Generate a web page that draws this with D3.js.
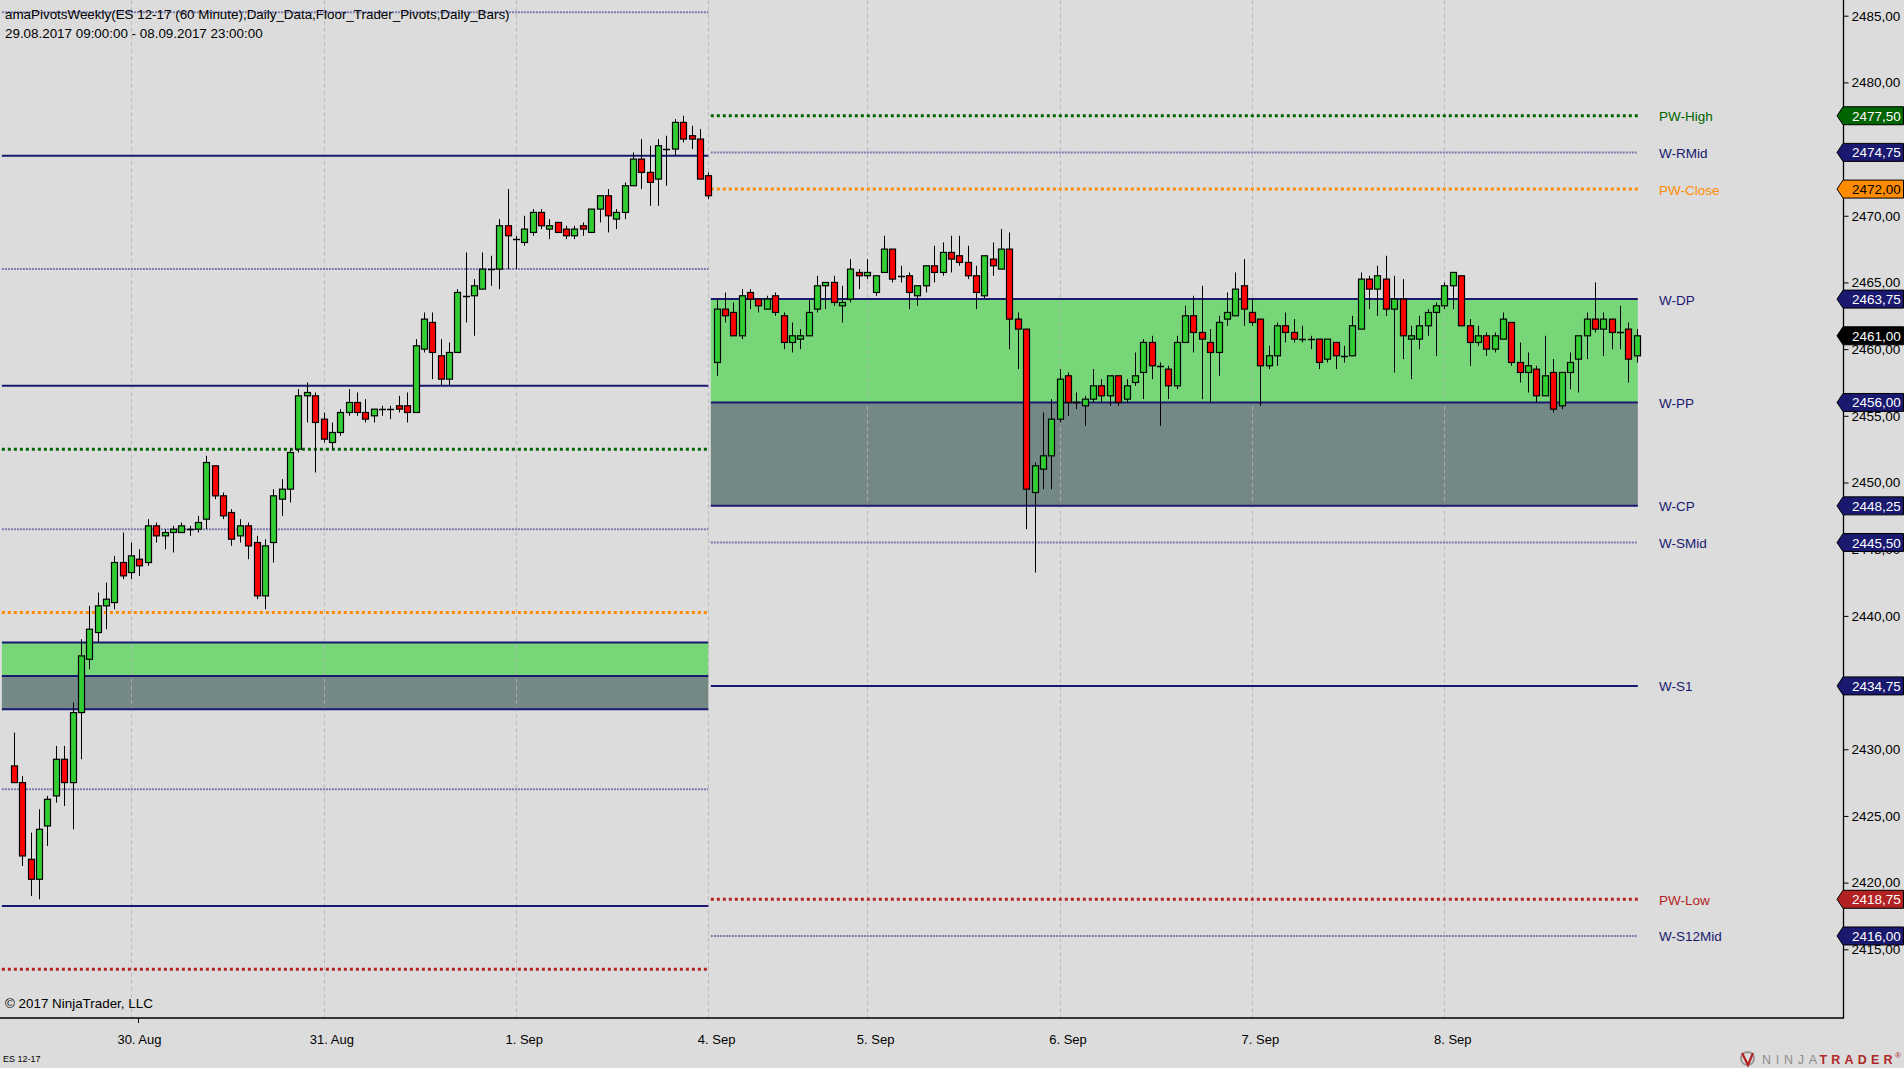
<!DOCTYPE html>
<html><head><meta charset="utf-8">
<script src="https://cdn.jsdelivr.net/npm/d3@7"></script>
<style>
html,body{margin:0;padding:0;background:#dcdcdc;overflow:hidden}
svg{display:block}
text{font-family:"Liberation Sans",Arial,sans-serif}
</style></head><body>
<svg id="chart" width="1904" height="1068"></svg>
<script>
// ---------------- DATA ----------------
const titleText = "amaPivotsWeekly(ES 12-17 (60 Minute),Daily_Data,Floor_Trader_Pivots,Daily_Bars)";
const rangeText = "29.08.2017 09:00:00 - 08.09.2017 23:00:00";
const sessionDays = ["29.08","30.08","31.08","01.09","04.09","05.09","06.09","07.09","08.09"];
const barsPerDay = [15,23,23,23,19,23,23,23,23];
const axisDayLabels = ["30. Aug","31. Aug","1. Sep","4. Sep","5. Sep","6. Sep","7. Sep","8. Sep"];

const openP = [
2428.75,2427.5,2421.75,2420.25,2424.25,2426.5,2429.25,2427.5,2432.75,2436.75,2438.75,2440.75,2441,2444,2443.25,
2444.25,2444,2446.75,2446,2446.25,2446.25,2446.5,2446.5,2447.25,2451.25,2449,2447.75,2446,2446.75,2445.5,2441.5,2445.5,2448.75,2449.5,2452.5,2456.5,2456.5,2454.75,
2453,2453.75,2455.25,2456,2455.25,2455,2455.5,2455.5,2455.75,2455.75,2455.25,2460,2462,2459.5,2457.75,2459.75,2464,2464,2464.5,2466,2466,2469.25,2468.25,
2468,2468.75,2470.25,2469,2469.5,2469,2468.5,2469.25,2468.75,2470.5,2471.5,2469.75,2470.25,2472.25,2474.25,2473.25,2472.75,2475,2475,2477,2476,2475.75,2473,
2459,2463,2462.75,2461,2464.25,2463.75,2463,2464,2462.5,2460.5,2460.75,2461,2463,2464.75,2465,2463.25,2463.75,2465.75,2465.5,
2464.25,2465.75,2467.5,2465.5,2465.5,2464,2464.75,2466.25,2465.75,2467.25,2467,2466.5,2465.5,2464,2466.75,2466,2467.5,2462.25,2461.5,2449.25,2451,2452,2454.75,
2458,2456,2455.75,2456.25,2457.25,2456.5,2458,2456.25,2457.5,2458.25,2460.5,2458.75,2458.5,2457.25,2460.5,2462.5,2461.25,2460.5,2459.75,2462.25,2462.5,2464.75,2462.75,
2462.25,2458.75,2459.5,2461.75,2461.25,2460.75,2460.75,2460.75,2459.25,2460.5,2459.5,2459.5,2461.5,2465.25,2464.5,2465.25,2463,2463.75,2460.75,2460.75,2461.75,2462.75,2463.25,
2464.75,2465.5,2461.75,2460.5,2461,2460,2460.75,2462,2459,2458.25,2458.5,2456.5,2458.25,2455.75,2458.25,2459.25,2461,2462.25,2461.5,2462.25,2461.25,2461.5,2459.5];
const highP = [
2431.25,2428,2423.75,2425.5,2426.5,2430.25,2430.25,2433.5,2438.25,2440.75,2441.75,2442.5,2444.5,2446.25,2445.5,
2445,2447.25,2447,2446.5,2446.75,2447,2446.75,2447.5,2452,2451.25,2449.25,2448,2447.25,2447,2446,2445.75,2449.5,2450.25,2452.5,2457,2457.5,2456.75,2455.25,
2454.5,2455.5,2457,2456.75,2456.25,2455.5,2455.75,2455.75,2456.5,2456.75,2460.75,2462.75,2462.75,2460.75,2460.5,2464.5,2467.25,2465.25,2467.25,2467,2469.75,2472,2468.5,
2470,2470.5,2470.5,2469.75,2469.5,2469.25,2469.25,2469.5,2470.5,2471.5,2472,2470.5,2472.5,2474.75,2475.75,2475.25,2475.75,2476,2477.25,2477.5,2476.75,2476.5,2473.25,
2463.75,2464.25,2463.5,2464.5,2464.5,2463.75,2464,2464.25,2462.75,2462,2461.5,2463.75,2465.5,2465,2465.5,2464.75,2466.75,2466,2466.75,
2465.5,2468.5,2467.5,2466.25,2465.75,2464.75,2466.25,2467.75,2468,2468.5,2468.5,2467.75,2466.25,2467,2468,2469,2468.75,2462.75,2461.5,2451.5,2455.25,2456.25,2458.5,
2458.25,2456.75,2456.5,2458.5,2457.75,2458,2458,2457.75,2459.75,2460.75,2461,2459,2458.75,2461,2463.25,2464,2464.75,2461.5,2462.5,2464.25,2465.75,2466.75,2463.75,
2462.25,2460.25,2462,2462.75,2462.25,2461.75,2461,2460.75,2460.75,2460.5,2460.25,2462.5,2465.75,2465.5,2466.25,2467,2465.5,2465.25,2461.75,2462.5,2463,2463.5,2465,
2465.75,2465.5,2462.25,2461.75,2461.25,2461.25,2462.75,2462,2460.5,2459.75,2458.75,2461,2459.25,2458.25,2459.75,2461,2462.75,2465,2462.75,2462.25,2463.25,2462,2461.5];
const lowP = [
2427.5,2421.25,2419,2418.75,2422.75,2426,2425.75,2424,2429.25,2436,2438,2439,2440.5,2442.75,2442.75,
2443,2443.75,2445.5,2445,2444.75,2446.25,2446,2446.25,2446.5,2448.75,2447.25,2445.25,2445.5,2444.25,2441.25,2440.5,2444,2447.5,2448.5,2452.25,2454.5,2450.75,2453,
2452.5,2453.5,2455,2455,2454.5,2454.5,2455,2454.75,2455.25,2454.5,2455.25,2459.75,2457.75,2457.25,2457.25,2459.75,2462,2461,2464.5,2464.75,2464.5,2466,2466,
2467.75,2468.5,2469,2468.25,2468.75,2468.25,2468.25,2468.5,2468.75,2469.5,2468.75,2469,2469.75,2472.25,2472,2470.75,2470.75,2472.25,2474.5,2475.5,2475,2472.75,2471.25,
2458,2462,2461,2460.75,2463,2462.75,2463,2462.5,2460,2459.75,2460,2461,2462.75,2463,2463.25,2462,2463.5,2464.5,2465.25,
2464,2465.75,2465,2465,2463,2463.25,2464.25,2465,2465.5,2465.75,2466.25,2465.25,2463,2463.75,2465.5,2466,2460,2458.5,2446.5,2443.25,2449.5,2449.5,2454.5,
2455,2455.5,2454.25,2456,2456,2455.75,2455.75,2456,2457.25,2456.25,2457.75,2454.25,2456.25,2457,2460.5,2459.75,2456.25,2456,2458,2461.75,2462.5,2461.75,2461.75,
2455.75,2458.5,2458.75,2460.5,2460.5,2460.5,2460,2458.5,2459,2458.5,2459,2459.5,2461.5,2463,2462.5,2462.5,2458.25,2459.25,2457.75,2460,2461,2459.5,2463,
2463,2461.75,2458.75,2460.25,2459.5,2459.75,2460.75,2458.75,2457.5,2456.75,2456,2456.5,2455.25,2455.5,2457,2456.75,2459.25,2461.25,2459.5,2460,2460,2457.5,2459];
const closeP = [
2427.5,2422,2420.25,2424,2426.25,2429.25,2427.5,2432.75,2437,2439,2440.75,2441.25,2444,2443,2444.5,
2443.75,2446.75,2446,2446.25,2446.5,2446.75,2446.5,2447,2451.5,2449,2447.5,2445.75,2446.75,2445.25,2441.5,2445.25,2449,2449.5,2452.25,2456.5,2456.75,2454.5,2453.25,
2453.75,2455.25,2456,2455.25,2454.75,2455.5,2455.5,2455.5,2455.5,2455.25,2460.25,2462.25,2459.75,2457.75,2459.75,2464.25,2464,2464.75,2466,2466,2469.25,2468.5,2468.25,
2469,2470.25,2469.25,2469.25,2468.75,2468.5,2469,2469,2470.5,2471.5,2470,2470.25,2472.25,2474.25,2473.25,2472.5,2475.25,2475,2477,2475.75,2475.75,2472.75,2471.5,
2463,2462.5,2461,2464,2463.75,2463.25,2463.75,2462.75,2460.5,2461,2461,2462.75,2464.75,2465,2463.5,2463.5,2466,2465.5,2465.75,
2465.5,2467.5,2465.25,2465.5,2464.25,2464.75,2466.25,2465.75,2467.25,2466.75,2466.5,2465.5,2464.25,2467,2466.25,2467.5,2462.25,2461.5,2449.5,2451.25,2452,2454.75,2457.75,
2456,2456,2456.25,2457.25,2456.5,2458,2456,2457.25,2458,2460.5,2458.75,2458.75,2457.25,2460.5,2462.5,2461.25,2460.75,2459.75,2462,2462.75,2464.5,2463,2462,
2458.75,2459.5,2461.75,2461.25,2460.75,2460.75,2460.75,2459,2460.75,2459.5,2459.5,2461.75,2465.25,2464.5,2465.5,2463,2463.75,2461,2461,2461.75,2462.75,2463.25,2464.75,
2465.75,2461.75,2460.5,2461,2460,2461,2462.25,2459,2458.25,2458.75,2456.5,2458,2455.5,2458.25,2459,2461,2462.25,2461.5,2462.25,2461.25,2461.25,2459.25,2461];

const yTickValues = [2485,2480,2475,2470,2465,2460,2455,2450,2445,2440,2435,2430,2425,2420,2415];

// weekly pivot levels: week 1 (29.08 - 01.09) and week 2 (04.09 - 08.09)
const w1Names  = ["R23Mid","R2","R12Mid","R1","PW-High","RMid","PW-Close","DP","PP","CP","SMid","S1","PW-Low"];
const w1Values = [2485.25,2474.5,2466,2457.25,2452.5,2446.5,2440.25,2438,2435.5,2433,2427,2418.25,2413.5];
const w1Kinds  = ["mid","pivot","mid","pivot","high","mid","close","pivot","pivot","pivot","mid","pivot","low"];
const w2Names  = ["PW-High","W-RMid","PW-Close","W-DP","W-PP","W-CP","W-SMid","W-S1","PW-Low","W-S12Mid"];
const w2Values = [2477.5,2474.75,2472,2463.75,2456,2448.25,2445.5,2434.75,2418.75,2416];
const w2Kinds  = ["high","mid","close","pivot","pivot","pivot","mid","pivot","low","mid"];
const lastPrice = 2461.00;

// ---------------- CHART ----------------
const svg = d3.select("#chart");
const W = 1904, H = 1068;
const plotRight = 1843.5, plotBottom = 1018;
const nBars = openP.length;

const x = d3.scaleLinear().domain([0, nBars - 1]).range([14.0, 1636.8]);
const y = d3.scaleLinear().domain([2409.85, 2486.177]).range([plotBottom, 0]);
const fmt = v => d3.format(".2f")(v).replace(".", ",");
const FONT = '"Liberation Sans",Arial,sans-serif';

svg.append("rect").attr("width", W).attr("height", H).attr("fill", "#dcdcdc");

// day boundaries
const dayStart = [];
let acc = 0;
barsPerDay.forEach(n => { dayStart.push(acc); acc += n; });
const gridIdx = dayStart.slice(1).map(s => s - 1);

// week sections
const weekFirst = dayStart[4];
const sections = [
  {x0: x(-1.45), x1: x(weekFirst - 1), names: w1Names, values: w1Values, kinds: w1Kinds},
  {x0: x(weekFirst - 0.7), x1: x(nBars - 1) + 1, names: w2Names, values: w2Values, kinds: w2Kinds}
];

const kindStyle = {
  pivot: {stroke: "#191970", width: 2, dash: null, text: "#191970", box: "#191970"},
  mid:   {stroke: "#7b7bad", width: 2, dash: "2,1", text: "#191970", box: "#191970"},
  high:  {stroke: "#006400", width: 3, dash: "3,3", text: "#006400", box: "#006400"},
  close: {stroke: "#ff8c00", width: 3, dash: "3,3", text: "#ff8c00", box: "#ff8c00"},
  low:   {stroke: "#b22222", width: 3, dash: "3,3", text: "#b22222", box: "#b22222"}
};

// zone fills
const gFill = svg.append("g");
sections.forEach(s => {
  const dp = s.values[s.names.findIndex(n => /DP$/.test(n))];
  const pp = s.values[s.names.findIndex(n => /PP$/.test(n))];
  const cp = s.values[s.names.findIndex(n => /CP$/.test(n))];
  gFill.append("rect").attr("x", s.x0).attr("width", s.x1 - s.x0)
    .attr("y", y(dp)).attr("height", y(pp) - y(dp)).attr("fill", "#77d677");
  gFill.append("rect").attr("x", s.x0).attr("width", s.x1 - s.x0)
    .attr("y", y(pp)).attr("height", y(cp) - y(pp)).attr("fill", "#748886");
});

// vertical day grid
svg.append("g").selectAll("line").data(gridIdx).join("line")
  .attr("x1", d => Math.round(x(d)) + 0.5).attr("x2", d => Math.round(x(d)) + 0.5)
  .attr("y1", 0).attr("y2", plotBottom)
  .attr("stroke", "#b4b4b4").attr("stroke-width", 1).attr("stroke-dasharray", "4,3")
  .attr("opacity", 0.8);

// pivot lines
const gLines = svg.append("g");
sections.forEach(s => {
  s.values.forEach((v, i) => {
    const st = kindStyle[s.kinds[i]];
    gLines.append("line").attr("x1", s.x0).attr("x2", s.x1)
      .attr("y1", y(v)).attr("y2", y(v))
      .attr("stroke", st.stroke).attr("stroke-width", st.width)
      .attr("stroke-dasharray", st.dash);
  });
});

// candles
const gC = svg.append("g");
const bodyW = 6;
d3.range(nBars).forEach(i => {
  const cx = Math.round(x(i)) + 0.5;
  const o = openP[i], c = closeP[i], h = highP[i], l = lowP[i];
  gC.append("line").attr("x1", cx).attr("x2", cx)
    .attr("y1", y(h)).attr("y2", y(l)).attr("stroke", "#000").attr("stroke-width", 1);
  if (o === c) {
    gC.append("line").attr("x1", cx - 3.5).attr("x2", cx + 3.5)
      .attr("y1", Math.round(y(o)) + 0.5).attr("y2", Math.round(y(o)) + 0.5)
      .attr("stroke", "#000").attr("stroke-width", 1.5);
  } else {
    const top = y(Math.max(o, c)), bot = y(Math.min(o, c));
    gC.append("rect").attr("x", cx - bodyW / 2).attr("width", bodyW)
      .attr("y", top).attr("height", Math.max(1, bot - top))
      .attr("fill", c > o ? "#32cd32" : "#ff0000")
      .attr("stroke", "#000").attr("stroke-width", 1.2);
  }
});

// level labels for current week
const lastSec = sections[1];
svg.append("g").selectAll("text").data(lastSec.values).join("text")
  .attr("x", 1659).attr("y", d => y(d) + 1)
  .attr("dominant-baseline", "central")
  .attr("font-size", 13.5)
  .attr("fill", (d, i) => kindStyle[lastSec.kinds[i]].text)
  .text((d, i) => lastSec.names[i]);

// frame
svg.append("line").attr("x1", plotRight).attr("x2", plotRight).attr("y1", 0).attr("y2", plotBottom)
  .attr("stroke", "#000").attr("stroke-width", 1.3);
svg.append("line").attr("x1", 0).attr("x2", plotRight + 0.6).attr("y1", plotBottom).attr("y2", plotBottom)
  .attr("stroke", "#000").attr("stroke-width", 1.5);

// right axis
const yAxis = d3.axisRight(y).tickValues(yTickValues).tickSize(5).tickPadding(3).tickFormat(fmt);
const gAx = svg.append("g").attr("transform", `translate(${plotRight},0)`).call(yAxis);
gAx.select(".domain").remove();
gAx.selectAll("text").attr("font-size", 13.5).attr("fill", "#000").attr("font-family", FONT);
gAx.selectAll("line").attr("stroke", "#000");

// price markers
const markerVals = lastSec.values.concat([lastPrice]);
const markerFill = lastSec.kinds.map(k => kindStyle[k].box).concat(["#000000"]);
const markerText = lastSec.kinds.map(k => k === "close" ? "#000" : "#fff").concat(["#fff"]);
const gM = svg.append("g");
markerVals.forEach((v, i) => {
  const yy = y(v);
  const pts = [[1837, yy], [1843, yy - 9], [1903.5, yy - 9], [1903.5, yy + 9], [1843, yy + 9]];
  gM.append("path").attr("d", d3.line()(pts) + "Z")
    .attr("fill", markerFill[i]).attr("stroke", "#000").attr("stroke-width", 1);
  gM.append("text").attr("x", 1852).attr("y", yy + 0.5)
    .attr("dominant-baseline", "central").attr("font-size", 13.5)
    .attr("fill", markerText[i]).text(fmt(v));
});

// x axis day labels
svg.append("g").selectAll("text").data(axisDayLabels).join("text")
  .attr("x", (d, i) => x(gridIdx[i] + 1)).attr("y", 1039.5)
  .attr("text-anchor", "middle").attr("dominant-baseline", "central")
  .attr("font-size", 13).attr("fill", "#000").text(d => d);
svg.append("line").attr("x1", 138.5).attr("x2", 138.5).attr("y1", plotBottom).attr("y2", plotBottom + 5)
  .attr("stroke", "#000");

// titles
svg.append("text").attr("x", 5).attr("y", 14).attr("dominant-baseline", "central")
  .attr("font-size", 13.4).attr("fill", "#000").text(titleText);
svg.append("text").attr("x", 5).attr("y", 33).attr("dominant-baseline", "central")
  .attr("font-size", 13.4).attr("fill", "#000").text(rangeText);
svg.append("text").attr("x", 5).attr("y", 1003).attr("dominant-baseline", "central")
  .attr("font-size", 13.4).attr("fill", "#000").text("\u00a9 2017 NinjaTrader, LLC");
svg.append("text").attr("x", 3).attr("y", 1059).attr("dominant-baseline", "central")
  .attr("font-size", 9).attr("fill", "#000").text("ES 12-17");

// NinjaTrader logo
const gL = svg.append("g");
gL.append("circle").attr("cx", 1747.5).attr("cy", 1058.5).attr("r", 6.5)
  .attr("fill", "none").attr("stroke", "#9a9a9a").attr("stroke-width", 2);
gL.append("path").attr("d", "M1742,1053 L1748,1065 L1753,1053").attr("fill", "none")
  .attr("stroke", "#b22222").attr("stroke-width", 2.2);
gL.append("text").attr("x", 1762).attr("y", 1059.5).attr("dominant-baseline", "central")
  .attr("font-size", 12.5).attr("fill", "#8c8c8c").attr("textLength", 55).attr("lengthAdjust", "spacing")
  .text("NINJA");
gL.append("text").attr("x", 1819.5).attr("y", 1059.5).attr("dominant-baseline", "central")
  .attr("font-size", 12.5).attr("font-weight", "bold").attr("fill", "#b02828").attr("textLength", 73).attr("lengthAdjust", "spacing")
  .text("TRADER");
gL.append("text").attr("x", 1895).attr("y", 1055).attr("dominant-baseline", "central")
  .attr("font-size", 8).attr("fill", "#b02828").text("\u00ae");
</script>
</body></html>
